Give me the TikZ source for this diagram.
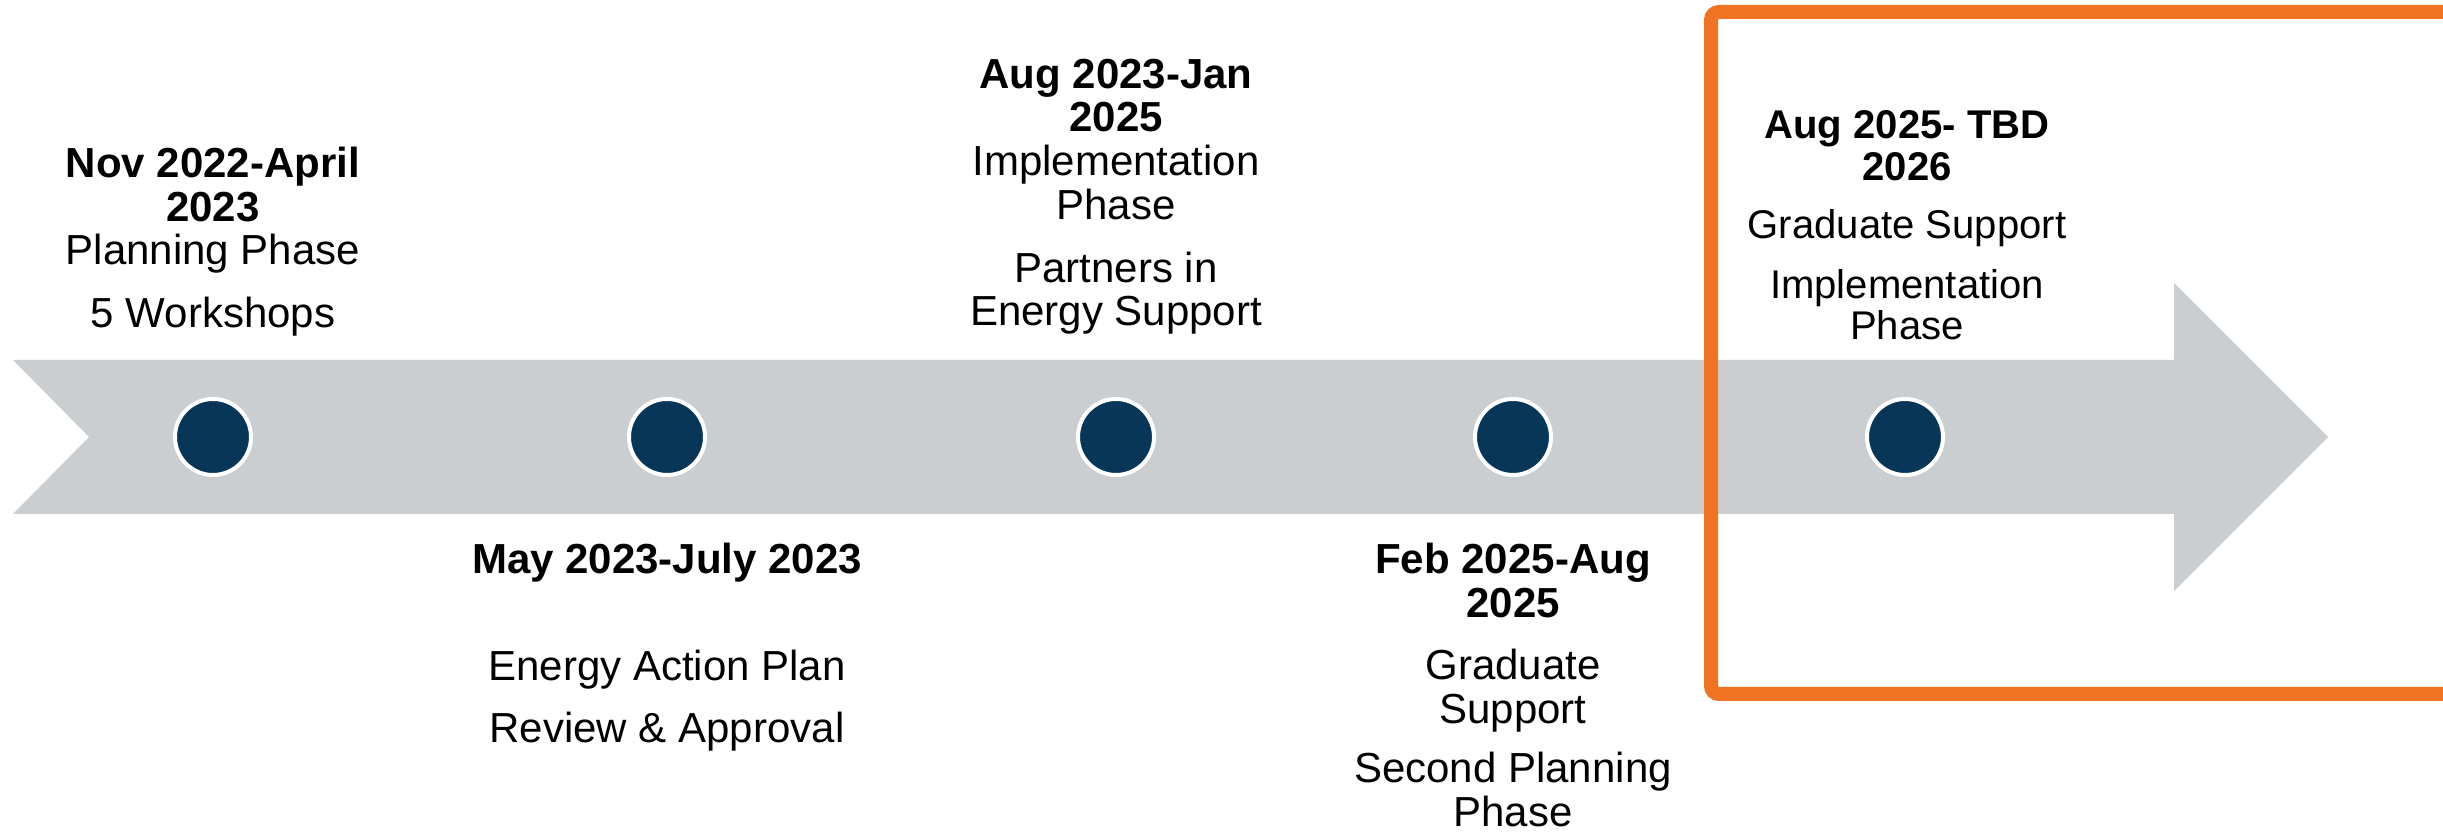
\documentclass[tikz,border=0pt]{standalone}
\usepackage{fontspec}
\setmainfont{Liberation Sans}
\usepackage{xcolor}
\usetikzlibrary{positioning}
\definecolor{bandGray}{RGB}{202,206,209}
\definecolor{dotNavy}{RGB}{7,54,89}
\definecolor{focusOrange}{RGB}{240,115,36}
\tikzset{
  dot/.style={circle, fill=dotNavy, draw=white, line width=0.04cm, minimum size=0.76cm, inner sep=0pt},
  phase/.style={align=center, inner sep=0pt, anchor=north, text=black,
    font=\fontsize{11.95}{12.5}\selectfont, execute at begin node={\rule{0pt}{9pt}}},
  focus/.style={draw=focusOrange, line width=0.14cm, rounded corners=0.08cm}
}

\begin{document}
\begin{tikzpicture}
  \useasboundingbox (0,0) rectangle (24.43,8.32);

  % timeline band with notched tail and arrow head
  \fill[bandGray] (0.13,4.72) -- (21.74,4.72) -- (21.74,5.49) -- (23.28,3.95)
    -- (21.74,2.41) -- (21.74,3.18) -- (0.13,3.18) -- (0.89,3.95) -- cycle;

  % milestones
  \node[dot] (d1) at (2.13,3.95) {};
  \node[dot] (d2) at (6.67,3.95) {};
  \node[dot] (d3) at (11.16,3.95) {};
  \node[dot] (d4) at (15.13,3.95) {};
  \node[dot] (d5) at (19.05,3.95) {};

  % phase labels
  \node[phase] (p1) at (2.13,6.86) {\textbf{Nov 2022-April}\\\textbf{2023}\\Planning Phase\\[5.2pt]5 Workshops};
  \node[phase] (p2) at (6.67,2.90) {\textbf{May 2023-July 2023}\\[18.1pt]Energy Action Plan\\[5pt]Review \& Approval};
  \node[phase] (p3) at (11.16,7.74) {\textbf{Aug 2023-Jan}\\\textbf{2025}\\Implementation\\Phase\\[5.2pt]Partners in\\Energy Support};
  \node[phase] (p4) at (15.13,2.90) {\textbf{Feb 2025-Aug}\\\textbf{2025}\\[5.2pt]Graduate\\Support\\[4.4pt]Second Planning\\Phase};
  \node[phase, font=\fontsize{11.4}{11.8}\selectfont] (p5) at (19.07,7.22)
    {\textbf{Aug 2025- TBD}\\\textbf{2026}\\[4.8pt]Graduate Support\\[5.2pt]Implementation\\Phase};

  % current phase highlight
  \draw[focus] (17.11,8.20) rectangle (24.80,1.38);
\end{tikzpicture}
\end{document}
